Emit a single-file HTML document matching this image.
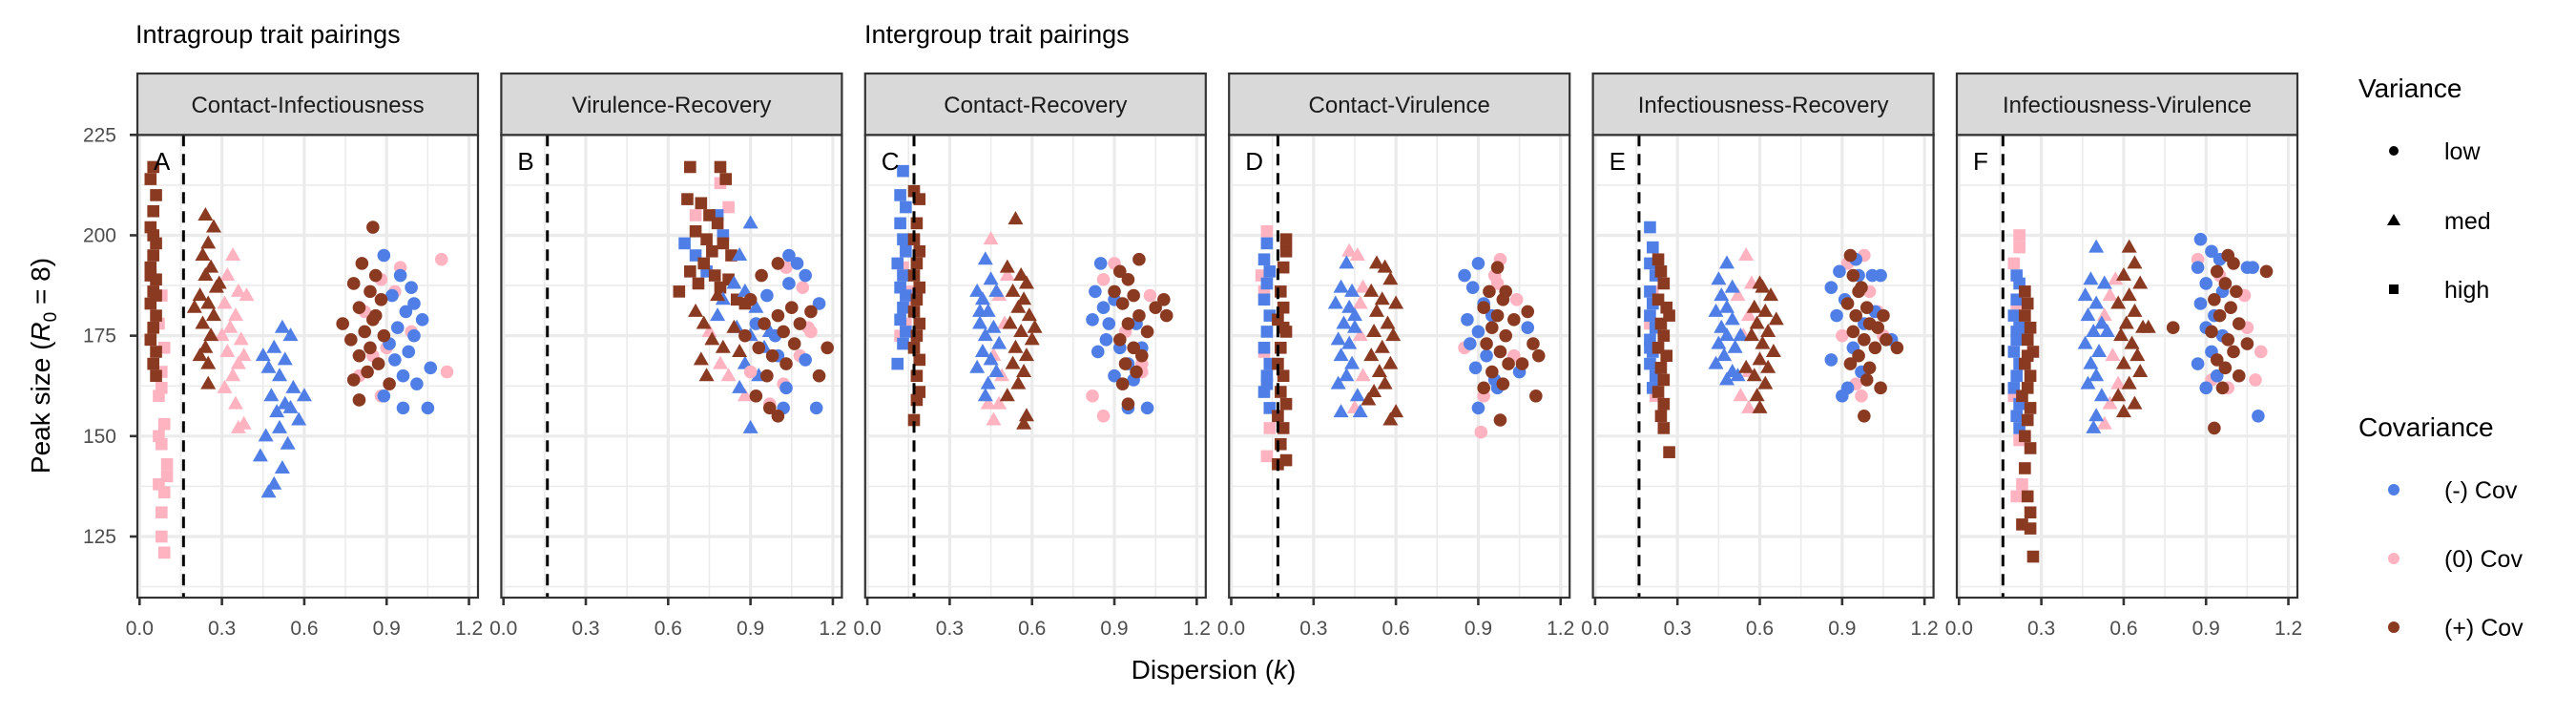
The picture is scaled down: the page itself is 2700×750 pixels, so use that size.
<!DOCTYPE html>
<html><head><meta charset="utf-8"><title>Peak size vs dispersion</title>
<style>
html,body{margin:0;padding:0;background:#fff;}
svg{display:block;font-family:"Liberation Sans",Arial,sans-serif;}
</style></head>
<body>
<svg id="chart" width="2700" height="750" viewBox="0 0 2700 750" xmlns="http://www.w3.org/2000/svg">
<rect x="0" y="0" width="2700" height="750" fill="#fff"/>
<text x="142" y="45" font-size="27" fill="#000">Intragroup trait pairings</text>
<text x="906" y="45" font-size="27" fill="#000">Intergroup trait pairings</text>
<text transform="translate(52,383) rotate(-90)" text-anchor="middle" font-size="28" fill="#000">Peak size (<tspan font-style="italic">R</tspan><tspan font-size="19" dy="7">0</tspan><tspan dy="-7"> = 8)</tspan></text>
<text x="1272" y="711" text-anchor="middle" font-size="28" fill="#000">Dispersion (<tspan font-style="italic">k</tspan>)</text>
<g id="panels"></g>
<g id="legend">
<text x="2472" y="102" font-size="28">Variance</text>
<circle cx="2509" cy="158" r="5" fill="#000"/>
<text x="2562" y="167" font-size="25">low</text>
<polygon points="2509,224 2516,236 2502,236" fill="#000"/>
<text x="2562" y="240" font-size="25">med</text>
<rect x="2504" y="298" width="10" height="10" fill="#000"/>
<text x="2562" y="312" font-size="25">high</text>
<text x="2472" y="457" font-size="28">Covariance</text>
<circle cx="2509" cy="513" r="6" fill="#4F7FE6"/>
<text x="2562" y="522" font-size="25">(-) Cov</text>
<circle cx="2509" cy="585" r="6" fill="#FFB3C1"/>
<text x="2562" y="594" font-size="25">(0) Cov</text>
<circle cx="2509" cy="657" r="6" fill="#8B3A22"/>
<text x="2562" y="666" font-size="25">(+) Cov</text>
</g>
</svg>
<script>
const panelNames = ["Contact-Infectiousness","Virulence-Recovery","Contact-Recovery","Contact-Virulence","Infectiousness-Recovery","Infectiousness-Virulence"];
const panelLetters = ["A","B","C","D","E","F"];
const xTicks = [0,0.3,0.6,0.9,1.2];
const xTickLabels = ["0.0","0.3","0.6","0.9","1.2"];
const xMinor = [0.15,0.45,0.75,1.05];
const yTicks = [125,150,175,200,225];
const yMinor = [112.5,137.5,162.5,187.5,212.5];
const thresholdK = [0.16,0.16,0.17,0.17,0.16,0.16];

// Panel A
const A_high_pink = [[0.08,185],[0.07,178],[0.09,172],[0.08,166],[0.07,160],[0.09,153],[0.08,148],[0.1,143],[0.07,138],[0.09,136],[0.08,131],[0.08,125],[0.09,121],[0.07,150],[0.1,140],[0.08,162]];
const A_high_pos = [[0.05,217],[0.04,214],[0.06,210],[0.05,206],[0.04,202],[0.06,198],[0.05,195],[0.04,192],[0.06,189],[0.05,186],[0.04,183],[0.06,180],[0.05,177],[0.04,174],[0.06,171],[0.05,168],[0.06,165],[0.04,190],[0.05,200],[0.06,185]];
const A_med_pink = [[0.34,195],[0.32,190],[0.36,186],[0.31,183],[0.35,180],[0.33,177],[0.37,174],[0.32,171],[0.36,168],[0.34,165],[0.31,162],[0.35,158],[0.38,153],[0.36,152],[0.39,185],[0.3,175],[0.38,170]];
const A_med_neg = [[0.52,177],[0.55,175],[0.49,172],[0.53,169],[0.47,167],[0.51,165],[0.56,162],[0.48,160],[0.53,158],[0.5,156],[0.58,154],[0.51,152],[0.46,150],[0.54,148],[0.44,145],[0.52,142],[0.49,138],[0.47,136],[0.6,160],[0.55,157],[0.45,170]];
const A_med_pos = [[0.24,205],[0.27,202],[0.25,198],[0.23,195],[0.26,192],[0.24,190],[0.28,187],[0.22,185],[0.25,183],[0.27,180],[0.23,178],[0.26,175],[0.24,172],[0.22,170],[0.25,168],[0.25,163],[0.29,188],[0.2,182]];
const A_low_pink = [[1.1,194],[0.95,192],[0.88,189],[0.93,186],[0.82,181],[0.99,176],[0.9,172],[0.85,170],[1.12,166],[0.8,165],[0.88,160]];
const A_low_neg = [[0.89,195],[0.95,190],[0.99,187],[0.92,185],[1.0,183],[0.97,181],[1.03,179],[0.94,177],[1.0,175],[0.91,173],[0.98,171],[0.93,169],[1.06,167],[0.96,165],[1.01,163],[0.89,160],[0.96,157],[1.05,157]];
const A_low_pos = [[0.85,202],[0.81,193],[0.86,190],[0.78,188],[0.84,186],[0.88,184],[0.8,182],[0.86,180],[0.74,178],[0.82,176],[0.89,175],[0.77,174],[0.84,172],[0.8,170],[0.87,168],[0.83,166],[0.78,164],[0.91,163],[0.8,159],[0.85,179]];
// Panel B
const B_high_pink = [[0.79,213],[0.7,205],[0.82,207]];
const B_high_neg = [[0.66,198],[0.7,195],[0.74,191],[0.8,200],[0.78,205]];
const B_high_pos = [[0.68,217],[0.79,217],[0.81,214],[0.67,209],[0.72,208],[0.75,205],[0.78,203],[0.7,201],[0.74,199],[0.8,198],[0.76,196],[0.83,195],[0.68,191],[0.73,193],[0.77,190],[0.82,189],[0.64,186],[0.85,184],[0.79,187],[0.71,188],[0.88,183]];
const B_med_pink = [[0.75,176],[0.82,165],[0.88,160],[0.79,168]];
const B_med_neg = [[0.9,203],[0.86,195],[0.84,188],[0.88,186],[0.8,184],[0.92,182],[0.85,177],[0.9,175],[0.95,172],[0.88,168],[0.93,165],[0.86,162],[0.9,152],[0.97,176],[0.78,180]];
const B_med_pos = [[0.73,178],[0.7,181],[0.76,174],[0.8,172],[0.72,169],[0.78,185],[0.84,177],[0.74,165],[0.86,171]];
const B_low_pink = [[1.03,192],[1.09,187],[1.11,177],[1.08,170],[0.97,158],[1.02,163],[0.9,166],[1.12,176]];
const B_low_neg = [[1.04,195],[1.07,193],[1.1,190],[1.04,188],[0.92,178],[0.99,175],[1.15,183],[1.1,169],[1.03,162],[1.02,157],[1.14,157],[0.96,185],[1.0,170]];
const B_low_pos = [[0.9,184],[0.95,178],[1.0,180],[0.93,172],[0.98,170],[1.02,176],[0.96,165],[1.05,182],[1.08,178],[1.12,181],[1.03,168],[0.92,160],[0.97,157],[1.0,155],[1.15,165],[1.18,172],[0.94,190],[1.0,193],[0.88,175],[1.06,173]];
// Panel C
const C_high_pink = [[0.13,192],[0.15,186],[0.14,178],[0.12,175],[0.16,182]];
const C_high_neg = [[0.13,216],[0.12,210],[0.14,207],[0.12,203],[0.13,199],[0.14,196],[0.11,193],[0.13,190],[0.12,187],[0.14,185],[0.13,182],[0.12,179],[0.14,176],[0.13,173],[0.11,168]];
const C_high_pos = [[0.17,211],[0.19,209],[0.18,203],[0.17,199],[0.19,196],[0.18,193],[0.17,190],[0.19,187],[0.18,184],[0.17,181],[0.19,178],[0.18,175],[0.17,172],[0.19,169],[0.18,165],[0.19,161],[0.18,159],[0.17,154]];
const C_med_pink = [[0.45,199],[0.48,185],[0.5,178],[0.46,170],[0.49,165],[0.44,158],[0.48,158],[0.46,154],[0.51,190]];
const C_med_neg = [[0.43,194],[0.4,186],[0.45,189],[0.42,184],[0.47,186],[0.44,181],[0.41,178],[0.46,177],[0.43,175],[0.48,173],[0.42,171],[0.45,169],[0.4,167],[0.47,166],[0.44,163],[0.43,160],[0.41,181]];
const C_med_pos = [[0.54,204],[0.51,192],[0.56,190],[0.58,188],[0.53,186],[0.57,184],[0.55,182],[0.59,180],[0.52,178],[0.56,176],[0.6,174],[0.54,172],[0.58,170],[0.53,168],[0.57,166],[0.55,163],[0.51,160],[0.58,155],[0.57,153],[0.61,177]];
const C_low_pink = [[0.9,193],[0.86,189],[1.03,185],[0.94,176],[1.0,168],[0.82,160],[0.86,155],[1.0,166]];
const C_low_neg = [[0.85,193],[0.83,186],[0.86,182],[0.9,184],[0.88,178],[0.82,179],[0.87,174],[0.92,172],[0.84,171],[0.95,168],[0.9,165],[0.97,164],[0.95,157],[1.02,157],[0.98,178],[1.0,172]];
const C_low_pos = [[0.99,194],[0.92,191],[0.95,189],[0.9,186],[0.97,185],[0.93,183],[0.99,180],[0.95,178],[1.02,176],[0.92,174],[0.97,172],[1.0,170],[0.94,168],[0.98,166],[1.05,182],[1.09,180],[1.08,184],[0.93,163],[0.95,158]];
// Panel D
const D_high_pink = [[0.13,201],[0.11,190],[0.12,186],[0.14,152],[0.13,145],[0.12,171]];
const D_high_neg = [[0.13,198],[0.12,194],[0.14,191],[0.13,188],[0.12,184],[0.14,180],[0.13,176],[0.12,172],[0.14,168],[0.13,165],[0.12,161],[0.14,157],[0.13,163]];
const D_high_pos = [[0.2,199],[0.2,196],[0.19,192],[0.18,186],[0.19,182],[0.17,179],[0.2,176],[0.18,172],[0.17,168],[0.19,165],[0.18,161],[0.2,158],[0.17,155],[0.19,152],[0.18,148],[0.2,144],[0.17,143],[0.19,177]];
const D_med_pink = [[0.43,196],[0.46,195],[0.48,187],[0.47,175],[0.48,165],[0.45,157],[0.47,183]];
const D_med_neg = [[0.42,193],[0.4,187],[0.44,186],[0.38,183],[0.43,182],[0.41,178],[0.45,177],[0.39,174],[0.43,173],[0.4,170],[0.44,168],[0.42,165],[0.39,163],[0.46,160],[0.4,156],[0.47,156],[0.45,180]];
const D_med_pos = [[0.53,193],[0.56,192],[0.58,189],[0.51,186],[0.55,184],[0.6,183],[0.53,181],[0.57,178],[0.52,176],[0.59,175],[0.55,172],[0.51,170],[0.58,168],[0.54,166],[0.56,163],[0.52,161],[0.6,156],[0.58,154],[0.5,159]];
const D_low_pink = [[0.98,194],[0.96,190],[0.97,188],[1.04,184],[0.85,172],[1.03,170],[0.92,160],[0.91,151]];
const D_low_neg = [[0.9,193],[0.85,190],[0.88,187],[0.92,183],[0.86,179],[0.9,176],[0.87,173],[0.93,170],[0.89,167],[0.96,164],[0.9,157],[0.97,162],[1.05,166],[1.08,177],[0.95,180]];
const D_low_pos = [[0.97,192],[0.94,186],[0.99,184],[0.92,182],[0.97,180],[0.95,177],[1.0,175],[0.93,173],[0.98,171],[1.01,168],[0.95,166],[0.99,163],[1.03,179],[1.08,181],[1.1,173],[1.12,170],[1.06,168],[0.92,162],[1.11,160],[0.98,154],[1.0,186]];
// Panel E
const E_high_pink = [[0.21,186],[0.2,178],[0.22,160]];
const E_high_neg = [[0.2,202],[0.21,197],[0.2,193],[0.22,190],[0.2,186],[0.21,183],[0.2,180],[0.22,177],[0.2,174],[0.21,171],[0.2,168],[0.22,165],[0.21,162],[0.2,172]];
const E_high_pos = [[0.23,194],[0.24,191],[0.25,188],[0.23,184],[0.26,182],[0.24,178],[0.25,175],[0.23,172],[0.26,170],[0.24,167],[0.25,164],[0.23,161],[0.25,158],[0.24,155],[0.25,152],[0.27,146],[0.27,180]];
const E_med_pink = [[0.55,195],[0.52,185],[0.56,180],[0.54,175],[0.56,166],[0.53,160],[0.56,157],[0.57,188]];
const E_med_neg = [[0.48,193],[0.45,189],[0.5,187],[0.46,185],[0.48,182],[0.44,181],[0.5,179],[0.46,177],[0.48,175],[0.45,173],[0.51,172],[0.47,170],[0.44,168],[0.5,166],[0.48,164],[0.53,175],[0.52,165]];
const E_med_pos = [[0.6,188],[0.64,185],[0.58,182],[0.62,181],[0.66,179],[0.59,178],[0.63,176],[0.57,175],[0.61,173],[0.65,171],[0.6,169],[0.63,167],[0.58,165],[0.62,163],[0.59,160],[0.6,157],[0.61,187],[0.55,167]];
const E_low_pink = [[0.98,195],[0.92,193],[1.0,186],[0.9,175],[1.03,181],[0.95,163],[0.97,160],[1.05,175]];
const E_low_neg = [[0.95,194],[0.89,191],[0.96,190],[0.86,187],[1.01,190],[0.91,184],[0.98,178],[0.88,180],[0.94,172],[0.86,169],[0.97,166],[0.92,162],[0.9,160],[1.08,174],[1.02,181],[1.04,190]];
const E_low_pos = [[0.93,195],[0.94,190],[0.97,187],[0.92,183],[0.99,182],[0.95,180],[1.0,178],[0.94,176],[0.98,174],[1.02,172],[0.96,170],[1.0,167],[0.93,168],[0.99,164],[1.05,180],[1.03,177],[1.06,174],[1.1,172],[0.98,155],[1.04,162],[0.96,186]];
// Panel F
const F_high_pink = [[0.22,200],[0.22,197],[0.2,193],[0.21,182],[0.2,160],[0.22,149],[0.21,135],[0.23,138]];
const F_high_neg = [[0.21,190],[0.22,188],[0.21,184],[0.2,180],[0.22,177],[0.21,174],[0.2,171],[0.22,168],[0.21,165],[0.2,162],[0.22,158],[0.21,155],[0.22,152],[0.21,176]];
const F_high_pos = [[0.24,186],[0.25,183],[0.24,180],[0.26,177],[0.25,174],[0.27,171],[0.24,168],[0.26,165],[0.25,162],[0.23,160],[0.26,157],[0.25,154],[0.24,150],[0.26,147],[0.24,142],[0.25,135],[0.26,131],[0.23,128],[0.26,127],[0.27,120],[0.25,170]];
const F_med_pink = [[0.55,185],[0.53,180],[0.56,170],[0.58,163],[0.55,158],[0.53,153],[0.57,189]];
const F_med_neg = [[0.5,197],[0.48,189],[0.53,188],[0.46,185],[0.5,183],[0.47,180],[0.52,178],[0.49,176],[0.46,173],[0.51,171],[0.48,168],[0.5,165],[0.47,163],[0.52,160],[0.5,155],[0.49,152],[0.54,176]];
const F_med_pos = [[0.62,197],[0.64,193],[0.6,190],[0.66,188],[0.62,185],[0.58,183],[0.64,181],[0.61,178],[0.67,177],[0.59,175],[0.63,173],[0.65,170],[0.6,168],[0.66,166],[0.62,163],[0.58,160],[0.64,158],[0.6,156],[0.69,177]];
const F_low_pink = [[0.87,194],[0.95,190],[1.04,185],[1.05,177],[1.1,171],[0.92,164],[0.98,162],[1.08,164]];
const F_low_neg = [[0.88,199],[0.92,196],[0.95,194],[0.87,192],[0.9,188],[0.96,186],[0.88,183],[0.93,180],[0.9,177],[0.96,175],[0.92,171],[0.87,168],[0.94,165],[0.9,162],[1.09,155],[1.05,192],[1.07,192]];
const F_low_pos = [[0.98,195],[1.0,193],[0.94,191],[0.97,188],[1.01,186],[0.93,184],[0.99,182],[0.95,180],[1.02,178],[0.92,176],[0.98,174],[1.0,171],[0.94,169],[0.97,167],[1.02,165],[0.96,162],[1.12,191],[0.78,177],[0.93,152],[1.05,173]];

const panelSeries = [
 [A_high_pink,A_high_pos,A_med_pink,A_med_neg,A_med_pos,A_low_pink,A_low_neg,A_low_pos],
 [B_high_pink,B_high_neg,B_high_pos,B_med_pink,B_med_neg,B_med_pos,B_low_pink,B_low_neg,B_low_pos],
 [C_high_pink,C_high_neg,C_high_pos,C_med_pink,C_med_neg,C_med_pos,C_low_pink,C_low_neg,C_low_pos],
 [D_high_pink,D_high_neg,D_high_pos,D_med_pink,D_med_neg,D_med_pos,D_low_pink,D_low_neg,D_low_pos],
 [E_high_pink,E_high_neg,E_high_pos,E_med_pink,E_med_neg,E_med_pos,E_low_pink,E_low_neg,E_low_pos],
 [F_high_pink,F_high_neg,F_high_pos,F_med_pink,F_med_neg,F_med_pos,F_low_pink,F_low_neg,F_low_pos]
];
const panelSeriesKeys = [
 ["high-zero","high-pos","med-zero","med-neg","med-pos","low-zero","low-neg","low-pos"],
 ["high-zero","high-neg","high-pos","med-zero","med-neg","med-pos","low-zero","low-neg","low-pos"],
 ["high-zero","high-neg","high-pos","med-zero","med-neg","med-pos","low-zero","low-neg","low-pos"],
 ["high-zero","high-neg","high-pos","med-zero","med-neg","med-pos","low-zero","low-neg","low-pos"],
 ["high-zero","high-neg","high-pos","med-zero","med-neg","med-pos","low-zero","low-neg","low-pos"],
 ["high-zero","high-neg","high-pos","med-zero","med-neg","med-pos","low-zero","low-neg","low-pos"]
];

const NS = "http://www.w3.org/2000/svg";
const colors = {neg:"#4F7FE6", zero:"#FFB3C1", pos:"#8B3A22"};
const PW = 357, PTOP = 141.3, PBOT = 626, STRIP_TOP = 77;
function panelLeft(i){ return 144 + i*381.4; }
function xScale(i, v){ return panelLeft(i) + 2.3 + v*287.7; }
function yScale(v){ return PTOP + (225 - v)*4.207; }
function mk(tag, attrs, parent){ const e=document.createElementNS(NS,tag); for(const k in attrs) e.setAttribute(k,attrs[k]); parent.appendChild(e); return e; }

const root = document.getElementById('panels');
panelNames.forEach((name,i)=>{
  const L = panelLeft(i);
  const g = mk('g',{},root);
  
  
  const bg = mk('rect',{x:L,y:PTOP,width:PW,height:PBOT-PTOP,fill:'#fff'},g);
  
  
  xMinor.forEach(v=>{ const l=mk('line',{x1:xScale(i,v),x2:xScale(i,v),y1:PTOP,y2:PBOT,stroke:'#EBEBEB','stroke-width':1.6},g);
      });
  yMinor.forEach(v=>{ const l=mk('line',{x1:L,x2:L+PW,y1:yScale(v),y2:yScale(v),stroke:'#EBEBEB','stroke-width':1.6},g);
      });
  xTicks.forEach(v=>{ const l=mk('line',{x1:xScale(i,v),x2:xScale(i,v),y1:PTOP,y2:PBOT,stroke:'#EBEBEB','stroke-width':3.2},g);
      });
  yTicks.forEach(v=>{ const l=mk('line',{x1:L,x2:L+PW,y1:yScale(v),y2:yScale(v),stroke:'#EBEBEB','stroke-width':3.2},g);
      });
  panelSeries[i].forEach((pts,si)=>{
    const key = panelSeriesKeys[i][si];
    const shape = key.split('-')[0], cov = key.split('-')[1];
    const col = colors[cov];
    pts.forEach(p=>{
      const cx = xScale(i,p[0]), cy = yScale(p[1]);
      let m;
      if(shape==='low') m = mk('circle',{cx:cx,cy:cy,r:6.8,fill:col},g);
      else if(shape==='med') m = mk('polygon',{points:`${cx},${cy-8.5} ${cx+8},${cy+5.5} ${cx-8},${cy+5.5}`,fill:col},g);
      else m = mk('rect',{x:cx-6.3,y:cy-6.3,width:12.6,height:12.6,fill:col},g);
      
      
    });
  });
  const th = mk('line',{x1:xScale(i,thresholdK[i]),x2:xScale(i,thresholdK[i]),y1:PTOP,y2:PBOT,stroke:'#000','stroke-width':3,'stroke-dasharray':'12 8'},g);
  
  
  const lt = mk('text',{x:L+17,y:178,'font-size':26,fill:'#000'},g);
  lt.textContent = panelLetters[i];
  
  
  const bd = mk('rect',{x:L,y:PTOP,width:PW,height:PBOT-PTOP,fill:'none',stroke:'#333','stroke-width':2.2},g);
  
  
  const st = mk('rect',{x:L,y:STRIP_TOP,width:PW,height:PTOP-STRIP_TOP,fill:'#D9D9D9',stroke:'#333','stroke-width':2.2},g);
  
  
  const sl = mk('text',{x:L+PW/2,y:118,'text-anchor':'middle','font-size':24,fill:'#1A1A1A'},g);
  sl.textContent = name;
  
  
  xTicks.forEach((v,ti)=>{
    const tk = mk('line',{x1:xScale(i,v),x2:xScale(i,v),y1:PBOT,y2:PBOT+8,stroke:'#333','stroke-width':2.6},g);
    
    
    const tl = mk('text',{x:xScale(i,v),y:665,'text-anchor':'middle','font-size':21,fill:'#4D4D4D'},g);
    tl.textContent = xTickLabels[ti];
    
    
  });
  if(i===0){
    yTicks.forEach(v=>{
      const tk = mk('line',{x1:L-8,x2:L,y1:yScale(v),y2:yScale(v),stroke:'#333','stroke-width':2.6},g);
      
      
      const tl = mk('text',{x:L-22,y:yScale(v)+7,'text-anchor':'end','font-size':21,fill:'#4D4D4D'},g);
      tl.textContent = String(v);
      
      
    });
  }
});
</script>
</body></html>
